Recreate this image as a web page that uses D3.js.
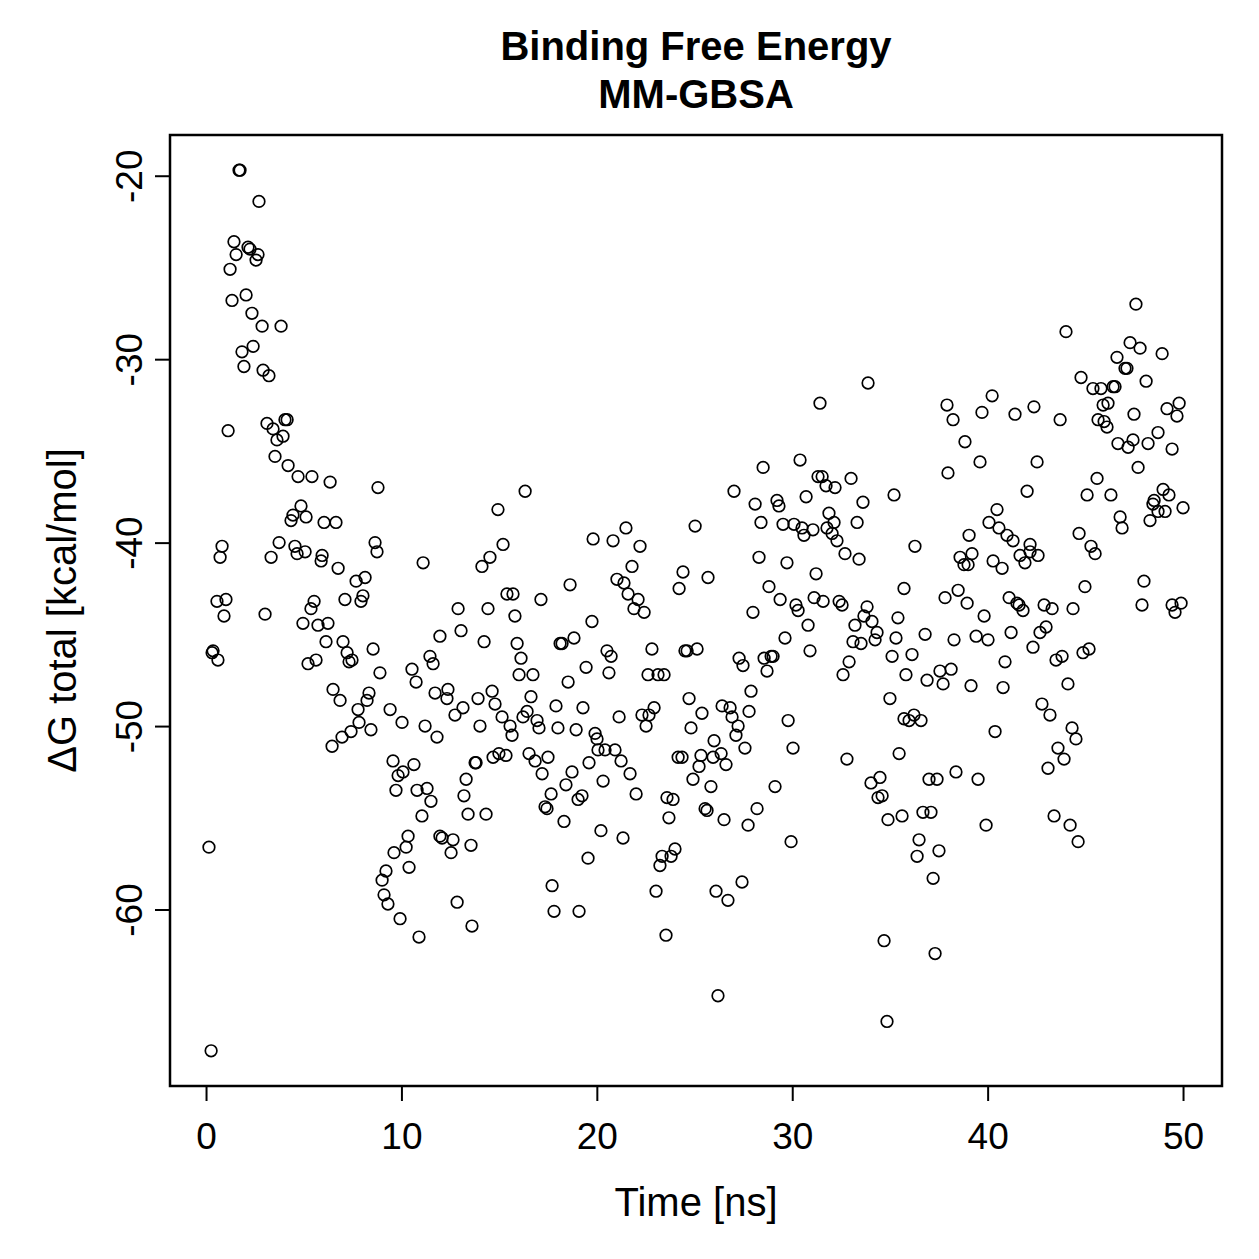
<!DOCTYPE html>
<html>
<head>
<meta charset="utf-8">
<script src="https://cdn.jsdelivr.net/npm/d3@7"></script>
<style>
  html, body { margin: 0; padding: 0; background: #fff; overflow: hidden; }
  svg { display: block; font-family: "Liberation Sans", Arial, Helvetica, sans-serif; }
</style>
</head>
<body>
<svg id="chart"></svg>
<script>
// time in ns, binding free energy in kcal/mol
const time = [
  0.15,0.26,0.31,0.36,0.56,0.61,0.72,0.82,0.92,1.02,1.13,1.23,1.33,1.43,1.54,1.69,1.74,1.84,1.94,2.05,
  2.15,2.25,2.35,2.41,2.56,2.66,2.71,2.87,2.92,3.02,3.12,3.22,3.33,3.43,3.53,3.63,3.74,3.84,3.94,4.04,
  4.15,4.20,4.35,4.45,4.55,4.66,4.71,4.86,4.96,5.07,5.12,5.22,5.37,5.42,5.53,5.63,5.73,5.89,5.94,6.04,
  6.14,6.24,6.35,6.45,6.50,6.65,6.76,6.86,6.96,7.01,7.11,7.22,7.32,7.42,7.47,7.68,7.78,7.83,7.93,8.03,
  8.14,8.24,8.34,8.44,8.55,8.65,8.75,8.80,8.90,9.01,9.11,9.21,9.31,9.42,9.57,9.62,9.72,9.83,9.93,10.03,
  10.08,10.24,10.34,10.39,10.54,10.64,10.75,10.80,10.90,11.05,11.11,11.21,11.31,11.46,11.51,11.62,11.72,11.82,11.97,11.97,
  12.08,12.33,12.38,12.54,12.64,12.74,12.85,12.90,13.05,13.15,13.20,13.31,13.41,13.56,13.61,13.77,13.82,13.92,14.02,14.12,
  14.23,14.33,14.43,14.53,14.64,14.69,14.79,14.94,14.99,15.15,15.20,15.35,15.40,15.56,15.66,15.71,15.81,15.92,16.02,16.12,
  16.22,16.33,16.43,16.53,16.63,16.73,16.84,16.94,17.04,17.14,17.20,17.35,17.45,17.50,17.66,17.71,17.81,17.91,18.01,18.12,
  18.22,18.32,18.42,18.53,18.63,18.73,18.83,18.94,19.04,19.09,19.24,19.29,19.45,19.55,19.60,19.75,19.81,19.91,20.01,20.06,
  20.21,20.32,20.42,20.52,20.62,20.73,20.83,20.93,21.03,21.14,21.24,21.34,21.39,21.49,21.60,21.70,21.80,21.90,22.01,22.11,
  22.21,22.31,22.42,22.52,22.62,22.67,22.82,22.93,23.03,23.13,23.23,23.34,23.44,23.54,23.59,23.69,23.80,23.90,24.00,24.16,
  24.21,24.36,24.41,24.51,24.62,24.72,24.82,24.92,25.03,25.13,25.23,25.33,25.38,25.54,25.64,25.69,25.84,25.95,26.00,26.10,
  26.20,26.36,26.41,26.51,26.61,26.71,26.82,26.92,27.02,27.12,27.23,27.28,27.43,27.48,27.58,27.74,27.79,27.89,27.99,28.10,
  28.20,28.30,28.40,28.51,28.56,28.71,28.81,28.92,29.02,29.12,29.22,29.32,29.38,29.53,29.63,29.73,29.79,29.94,30.04,30.09,
  30.19,30.30,30.40,30.50,30.60,30.71,30.81,30.91,31.06,31.12,31.22,31.32,31.42,31.53,31.58,31.73,31.78,31.88,32.04,32.14,
  32.19,32.29,32.40,32.55,32.60,32.70,32.80,32.91,33.01,33.11,33.21,33.32,33.42,33.52,33.62,33.67,33.83,33.88,34.03,34.08,
  34.24,34.34,34.39,34.49,34.60,34.70,34.85,34.90,35.00,35.11,35.21,35.31,35.41,35.47,35.62,35.72,35.72,35.82,35.98,36.13,
  36.23,36.28,36.39,36.49,36.59,36.69,36.80,36.90,37.00,37.10,37.21,37.31,37.41,37.51,37.56,37.72,37.82,37.92,37.97,38.13,
  38.23,38.28,38.38,38.49,38.59,38.79,38.84,38.95,39.00,39.05,39.15,39.20,39.41,39.51,39.61,39.71,39.82,39.92,40.02,40.07,
  40.23,40.28,40.38,40.48,40.58,40.74,40.79,40.89,40.99,41.10,41.20,41.30,41.40,41.50,41.61,41.66,41.81,41.91,42.02,42.17,
  42.17,42.32,42.37,42.53,42.58,42.68,42.78,42.89,42.99,43.09,43.19,43.30,43.40,43.50,43.60,43.71,43.81,43.91,44.01,44.11,
  44.22,44.32,44.37,44.52,44.63,44.68,44.78,44.88,44.98,45.09,45.19,45.29,45.39,45.50,45.60,45.65,45.80,45.91,45.96,46.11,
  46.16,46.31,46.42,46.52,46.62,46.67,46.78,46.88,47.03,47.13,47.19,47.29,47.44,47.49,47.59,47.70,47.80,47.90,48.00,48.11,
  48.21,48.31,48.46,48.52,48.72,48.72,48.93,48.98,49.08,49.18,49.28,49.44,49.44,49.59,49.69,49.80,49.90,50.00
];
const dG = [
  -56.6,-67.7,-46.0,-45.9,-43.2,-46.4,-40.8,-40.2,-44.0,-43.1,-33.9,-25.1,-26.8,-23.6,-24.3,-19.7,-19.7,-29.6,-30.4,-26.5,
  -23.9,-24.0,-27.5,-29.3,-24.6,-24.3,-21.4,-28.2,-30.6,-43.9,-33.5,-30.9,-40.8,-33.8,-35.3,-34.4,-40.0,-28.2,-34.2,-33.3,
  -33.3,-35.8,-38.8,-38.5,-40.2,-40.6,-36.4,-38.0,-44.4,-40.5,-38.6,-46.6,-43.6,-36.4,-43.2,-46.4,-44.5,-41.0,-40.7,-38.9,
  -45.4,-44.4,-36.7,-51.1,-48.0,-38.9,-41.4,-48.6,-50.6,-45.4,-43.1,-46.0,-46.5,-50.3,-46.4,-42.1,-49.1,-49.8,-43.2,-42.9,
  -41.9,-48.6,-48.2,-50.2,-45.8,-40.0,-40.5,-37.0,-47.1,-58.4,-59.2,-57.9,-59.7,-49.1,-51.9,-56.9,-53.5,-52.7,-60.5,-49.8,
  -52.5,-56.6,-56.0,-57.7,-46.9,-52.1,-47.6,-53.5,-61.5,-54.9,-41.1,-50.0,-53.4,-46.2,-54.1,-46.6,-48.2,-50.6,-45.1,-56.0,
  -56.1,-48.5,-48.0,-56.9,-56.2,-49.4,-59.6,-43.6,-44.8,-49.0,-53.8,-52.9,-54.8,-56.5,-60.9,-52.0,-52.0,-48.5,-50.0,-41.3,
  -45.4,-54.8,-43.6,-40.8,-48.1,-51.7,-48.8,-38.2,-51.5,-49.5,-40.1,-51.6,-42.8,-50.0,-50.5,-42.8,-44.0,-45.5,-47.2,-46.3,
  -49.5,-37.2,-49.2,-51.5,-48.4,-47.2,-51.9,-49.7,-50.1,-43.1,-52.6,-54.4,-54.5,-51.7,-53.7,-58.7,-60.1,-48.9,-50.1,-45.5,
  -45.5,-55.2,-53.2,-47.6,-42.3,-52.5,-45.2,-50.2,-54.0,-60.1,-53.8,-49.0,-46.8,-57.2,-52.0,-44.3,-39.8,-50.4,-50.7,-51.3,
  -55.7,-53.0,-51.3,-45.9,-47.1,-46.2,-39.9,-51.3,-42.0,-49.5,-51.9,-56.1,-42.2,-39.2,-42.8,-52.6,-41.3,-43.6,-53.7,-43.1,
  -40.2,-49.4,-43.8,-50.0,-47.2,-49.4,-45.8,-49.0,-59.0,-47.2,-57.6,-57.1,-47.2,-61.4,-53.9,-55.0,-57.1,-54.0,-56.7,-51.7,
  -42.5,-51.7,-41.6,-45.9,-45.9,-48.5,-50.1,-52.9,-39.1,-45.8,-52.2,-51.6,-49.3,-54.5,-54.6,-41.9,-53.3,-51.7,-50.8,-59.0,
  -64.7,-51.5,-48.9,-55.1,-52.1,-59.5,-49.0,-49.5,-37.2,-50.5,-50.0,-46.3,-58.5,-46.7,-51.2,-55.4,-49.2,-48.1,-43.8,-37.9,
  -54.5,-40.8,-38.9,-35.9,-46.3,-47.0,-42.4,-46.2,-46.2,-53.3,-37.7,-38.0,-43.1,-39.0,-45.2,-41.1,-49.7,-56.3,-51.2,-39.0,
  -43.4,-43.7,-35.5,-39.2,-39.6,-37.5,-44.5,-45.9,-39.3,-43.0,-41.7,-36.4,-32.4,-36.4,-43.2,-36.9,-39.2,-38.4,-39.5,-38.9,
  -37.0,-39.9,-43.2,-43.4,-47.2,-40.6,-51.8,-46.5,-36.5,-45.4,-44.5,-38.9,-40.9,-45.5,-37.8,-44.0,-43.5,-31.3,-53.1,-44.3,
  -45.3,-44.9,-53.9,-52.8,-53.8,-61.7,-66.1,-55.1,-48.5,-46.2,-37.4,-45.2,-44.1,-51.5,-54.9,-42.5,-49.6,-47.2,-49.7,-46.1,
  -49.4,-40.2,-57.1,-56.2,-49.7,-54.7,-45.0,-47.5,-52.9,-54.7,-58.3,-62.4,-52.9,-56.8,-47.0,-47.7,-43.0,-32.5,-36.2,-46.9,
  -33.3,-45.3,-52.5,-42.6,-40.8,-41.2,-34.5,-43.3,-41.2,-39.6,-47.8,-40.6,-45.1,-52.9,-35.6,-32.9,-44.0,-55.4,-45.3,-38.9,
  -32.0,-41.0,-50.3,-38.2,-39.2,-41.4,-47.9,-46.5,-39.6,-43.0,-44.9,-39.9,-33.0,-43.3,-43.4,-40.7,-43.7,-41.1,-37.2,-40.1,
  -40.5,-45.7,-32.6,-35.6,-40.7,-44.9,-48.8,-43.4,-44.6,-52.3,-49.4,-43.6,-54.9,-46.4,-51.2,-33.3,-46.2,-51.8,-28.5,-47.7,
  -55.4,-50.1,-43.6,-50.7,-56.3,-39.5,-31.0,-46.0,-42.4,-37.4,-45.8,-40.2,-31.6,-40.6,-36.5,-33.3,-31.6,-32.5,-33.4,-33.7,
  -32.4,-37.4,-31.5,-31.5,-29.9,-34.6,-38.6,-39.2,-30.5,-30.5,-34.8,-29.1,-34.4,-33.0,-27.0,-35.9,-29.4,-43.4,-42.1,-31.2,
  -34.6,-38.8,-37.9,-37.7,-34.0,-38.3,-29.7,-37.1,-38.3,-32.7,-37.4,-34.9,-43.4,-43.8,-33.1,-32.4,-43.3,-38.1
];

const xTicks = [0, 10, 20, 30, 40, 50];
const yTicks = [-60, -50, -40, -30, -20];
const titleLines = ["Binding Free Energy", "MM-GBSA"];
const xLabel = "Time [ns]";
const yLabel = "ΔG total [kcal/mol]";

const width = 1259, height = 1259;
const margin = {top: 135, right: 37, bottom: 173, left: 170};
const innerWidth = width - margin.left - margin.right;
const innerHeight = height - margin.top - margin.bottom;

const data = time.map((t, i) => ({t: t, g: dG[i]}));

// R-style 4% padding around the data range
function padded(ext) {
  const p = (ext[1] - ext[0]) * 0.04;
  return [ext[0] - p, ext[1] + p];
}

const svg = d3.select("#chart")
  .attr("width", width)
  .attr("height", height);

svg.append("rect")
  .attr("width", width).attr("height", height)
  .attr("fill", "#fff");

const x = d3.scaleLinear()
  .domain(padded(d3.extent(time)))
  .range([margin.left, margin.left + innerWidth]);

const y = d3.scaleLinear()
  .domain(padded(d3.extent(dG)))
  .range([margin.top + innerHeight, margin.top]);

// points
svg.append("g")
  .selectAll("circle")
  .data(data)
  .enter().append("circle")
  .attr("cx", d => x(d.t))
  .attr("cy", d => y(d.g))
  .attr("r", 5.8)
  .attr("fill", "none")
  .attr("stroke", "#000")
  .attr("stroke-width", 1.7);

// box
svg.append("rect")
  .attr("x", margin.left)
  .attr("y", margin.top)
  .attr("width", innerWidth)
  .attr("height", innerHeight)
  .attr("fill", "none")
  .attr("stroke", "#000")
  .attr("stroke-width", 2.5);

// x axis
const xAxis = svg.append("g")
  .attr("transform", `translate(0,${margin.top + innerHeight})`)
  .call(d3.axisBottom(x).tickValues(xTicks).tickSize(15).tickFormat(d => String(d)));
xAxis.select(".domain")
  .attr("d", `M${x(xTicks[0])},0H${x(xTicks[xTicks.length - 1])}`)
  .attr("stroke-width", 2);
xAxis.selectAll(".tick line").attr("stroke-width", 2);
xAxis.selectAll("text")
  .attr("y", 63)
  .attr("dy", 0)
  .attr("fill", "#000")
  .style("font-size", "37px")
  .style("font-family", "Liberation Sans, Arial, sans-serif");

// y axis, labels rotated like R's las = 0
const yAxis = svg.append("g")
  .attr("transform", `translate(${margin.left},0)`)
  .call(d3.axisLeft(y).tickValues(yTicks).tickSize(15).tickFormat(d => String(d)));
yAxis.select(".domain")
  .attr("d", `M0,${y(yTicks[0])}V${y(yTicks[yTicks.length - 1])}`)
  .attr("stroke-width", 2);
yAxis.selectAll(".tick line").attr("stroke-width", 2);
yAxis.selectAll("text")
  .attr("x", 0)
  .attr("dy", 0)
  .attr("text-anchor", "middle")
  .attr("transform", "translate(-28,0) rotate(-90)")
  .attr("fill", "#000")
  .style("font-size", "37px")
  .style("font-family", "Liberation Sans, Arial, sans-serif");

// title
svg.append("g")
  .selectAll("text")
  .data(titleLines)
  .enter().append("text")
  .attr("x", margin.left + innerWidth / 2)
  .attr("y", (d, i) => 60 + i * 48)
  .attr("text-anchor", "middle")
  .style("font-size", "40px")
  .style("font-weight", "bold")
  .text(d => d);

// axis labels
svg.append("text")
  .attr("x", margin.left + innerWidth / 2)
  .attr("y", 1216)
  .attr("text-anchor", "middle")
  .style("font-size", "40px")
  .text(xLabel);

svg.append("text")
  .attr("transform", `translate(76,${margin.top + innerHeight / 2}) rotate(-90)`)
  .attr("text-anchor", "middle")
  .style("font-size", "40px")
  .text(yLabel);
</script>
</body>
</html>
